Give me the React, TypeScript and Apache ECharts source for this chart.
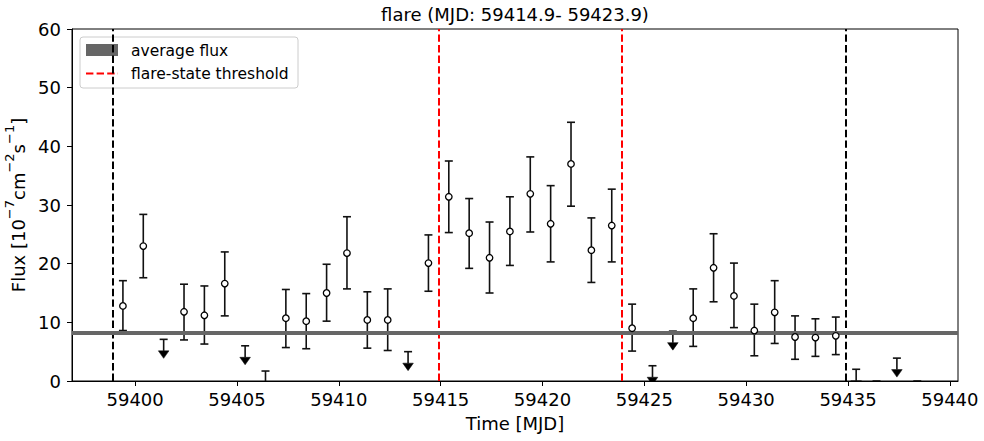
import React, { useEffect, useRef } from 'react';
import * as echarts from 'echarts';

// Detections (MJD, flux, lower error end, upper error end) in 1e-7 cm^-2 s^-1
const DET_TIME = [
  59399.4, 59400.4, 59402.4, 59403.4, 59404.4, 59407.4, 59408.4, 59409.4, 59410.4, 59411.4,
  59412.4, 59414.4, 59415.4, 59416.4, 59417.4, 59418.4, 59419.4, 59420.4, 59421.4, 59422.4,
  59423.4, 59424.4, 59427.4, 59428.4, 59429.4, 59430.4, 59431.4, 59432.4, 59433.4, 59434.4,
];
const DET_FLUX = [
  12.8, 23.0, 11.8, 11.2, 16.6, 10.7, 10.2, 15.0, 21.8, 10.4,
  10.4, 20.1, 31.4, 25.2, 21.0, 25.5, 31.9, 26.8, 37.0, 22.3,
  26.5, 9.0, 10.7, 19.3, 14.5, 8.6, 11.7, 7.5, 7.4, 7.7,
];
const DET_LOW = [
  8.6, 17.6, 7.0, 6.3, 11.1, 5.7, 5.5, 10.2, 15.7, 5.6,
  5.2, 15.3, 25.3, 19.2, 15.0, 19.7, 25.4, 20.3, 29.8, 16.8,
  20.3, 5.1, 5.9, 13.5, 9.1, 4.3, 6.4, 3.7, 4.2, 4.5,
];
const DET_HIGH = [
  17.1, 28.4, 16.5, 16.2, 22.0, 15.6, 14.9, 19.9, 28.0, 15.2,
  15.7, 24.9, 37.5, 31.1, 27.1, 31.4, 38.2, 33.3, 44.1, 27.8,
  32.7, 13.1, 15.7, 25.1, 20.1, 13.1, 17.1, 11.1, 10.6, 10.9,
];

// Upper limits
const UL_TIME = [59401.4, 59405.4, 59406.4, 59413.4, 59425.4, 59426.4, 59435.4, 59436.4, 59437.4, 59438.4];
const UL_FLUX = [7.1, 6.0, 1.7, 5.0, 2.6, 8.5, 2.0, 0.0, 3.9, 0.0];

const AVG_FLUX = 8.2;
const WINDOW_LINES = [59398.9, 59434.9];
const FLARE_LINES = [59414.9, 59423.9];

const X_MIN = 59396.9;
const X_MAX = 59440.4;
const X_TICKS = [59400, 59405, 59410, 59415, 59420, 59425, 59430, 59435, 59440];
const Y_MIN = 0;
const Y_MAX = 60;
const Y_STEP = 10;

const TITLE = 'flare (MJD: 59414.9- 59423.9)';
const LEGEND_AVG = 'average flux';
const LEGEND_THR = 'flare-state threshold';

const FONT = 'DejaVu Sans';

export default function App() {
  const ref = useRef<HTMLDivElement>(null);

  useEffect(() => {
    document.body.style.margin = '0';
    if (!ref.current) return;
    const chart = echarts.init(ref.current, undefined, { renderer: 'svg' });

    const errData = DET_TIME.map((t, i) => [t, DET_LOW[i], DET_HIGH[i]]);
    const ptData = DET_TIME.map((t, i) => [t, DET_FLUX[i]]);
    const ulData = UL_TIME.map((t, i) => [t, UL_FLUX[i]]);

    const barStyle = { stroke: '#111', lineWidth: 1.6 };
    const capHalf = 4;
    const arrowPx = 19;

    const markData: any[] = [];
    WINDOW_LINES.forEach((v) =>
      markData.push({ xAxis: v, lineStyle: { color: '#000', width: 2, type: [7.4, 3.2] } })
    );
    FLARE_LINES.forEach((v) =>
      markData.push({ xAxis: v, lineStyle: { color: '#ff0000', width: 2, type: [7.4, 3.2] } })
    );
    markData.push({ yAxis: AVG_FLUX, lineStyle: { color: '#666666', width: 4, type: 'solid' } });

    chart.setOption({
      animation: false,
      textStyle: { fontFamily: FONT },
      grid: {
        left: 72,
        right: 26,
        top: 29,
        bottom: 60,
        containLabel: false,
        outerBoundsMode: 'none',
        show: true,
        borderColor: '#000',
        borderWidth: 1,
        backgroundColor: 'transparent',
      },
      xAxis: {
        type: 'value',
        min: X_MIN,
        max: X_MAX,
        axisLine: { show: true, onZero: false, lineStyle: { color: '#000', width: 1 } },
        axisTick: { show: true, inside: false, length: 5, customValues: X_TICKS, lineStyle: { color: '#000' } },
        axisLabel: {
          customValues: X_TICKS,
          formatter: (v: number) => String(v),
          fontSize: 18,
          color: '#000',
          margin: 9,
          fontFamily: FONT,
        },
        splitLine: { show: false },
        name: 'Time [MJD]',
        nameLocation: 'middle',
        nameGap: 33,
        nameTextStyle: { fontSize: 18, color: '#000', fontFamily: FONT },
      },
      yAxis: {
        type: 'value',
        min: Y_MIN,
        max: Y_MAX,
        interval: Y_STEP,
        axisLine: { show: true, onZero: false, lineStyle: { color: '#000', width: 1 } },
        axisTick: { show: true, inside: false, length: 5, lineStyle: { color: '#000' } },
        axisLabel: {
          formatter: (v: number) => String(v),
          fontSize: 18,
          color: '#000',
          margin: 11,
          fontFamily: FONT,
        },
        splitLine: { show: false },
        name: '{n|Flux [10}{s|−7}{n|cm}{s|−2}{n|s}{s|−1}{n|]}',
        nameLocation: 'middle',
        nameGap: 39,
        nameTextStyle: {
          color: '#000',
          fontFamily: FONT,
          rich: {
            n: { fontSize: 18, lineHeight: 24, verticalAlign: 'bottom', fontFamily: FONT, color: '#000' },
            s: { fontSize: 13, lineHeight: 15, verticalAlign: 'top', fontFamily: FONT, color: '#000' },
          },
        },
      },
      graphic: [
        {
          type: 'text',
          x: 515,
          y: 14,
          style: {
            text: TITLE,
            fontSize: 18,
            fontFamily: FONT,
            fill: '#000',
            align: 'center',
            verticalAlign: 'middle',
          },
        },
        {
          type: 'group',
          z: 100,
          children: [
            {
              type: 'rect',
              shape: { x: 80, y: 37, width: 218, height: 51, r: 3 },
              style: { fill: 'rgba(255,255,255,0.85)', stroke: '#cccccc', lineWidth: 1 },
            },
            {
              type: 'rect',
              shape: { x: 86, y: 44, width: 32, height: 12 },
              style: { fill: '#666666' },
            },
            {
              type: 'line',
              shape: { x1: 86, y1: 73.5, x2: 118, y2: 73.5 },
              style: { stroke: '#ff0000', lineWidth: 2, lineDash: [7.4, 3.2] },
            },
            {
              type: 'text',
              x: 131,
              y: 50.5,
              style: { text: LEGEND_AVG, fontSize: 15.5, fontFamily: FONT, fill: '#000', verticalAlign: 'middle' },
            },
            {
              type: 'text',
              x: 131,
              y: 73.5,
              style: { text: LEGEND_THR, fontSize: 15.5, fontFamily: FONT, fill: '#000', verticalAlign: 'middle' },
            },
          ],
        },
      ],
      series: [
        {
          type: 'line',
          data: [],
          z: 1,
          silent: true,
          markLine: {
            silent: true,
            symbol: ['none', 'none'],
            label: { show: false },
            data: markData,
          },
        },
        {
          type: 'custom',
          z: 3,
          clip: true,
          silent: true,
          encode: { x: 0, y: [1, 2] },
          data: errData,
          renderItem: (params: any, api: any) => {
            const x = api.value(0);
            const top = api.coord([x, api.value(2)]);
            const bot = api.coord([x, api.value(1)]);
            return {
              type: 'group',
              children: [
                { type: 'line', shape: { x1: top[0], y1: top[1], x2: bot[0], y2: bot[1] }, style: barStyle },
                { type: 'line', shape: { x1: top[0] - capHalf, y1: top[1], x2: top[0] + capHalf, y2: top[1] }, style: barStyle },
                { type: 'line', shape: { x1: bot[0] - capHalf, y1: bot[1], x2: bot[0] + capHalf, y2: bot[1] }, style: barStyle },
              ],
            };
          },
        },
        {
          type: 'custom',
          z: 3,
          clip: true,
          silent: true,
          encode: { x: 0, y: 1 },
          data: ulData,
          renderItem: (params: any, api: any) => {
            const p = api.coord([api.value(0), api.value(1)]);
            const tipY = p[1] + arrowPx;
            const triTop = tipY - 7.5;
            return {
              type: 'group',
              children: [
                { type: 'line', shape: { x1: p[0] - capHalf, y1: p[1], x2: p[0] + capHalf, y2: p[1] }, style: barStyle },
                { type: 'line', shape: { x1: p[0], y1: p[1], x2: p[0], y2: triTop }, style: barStyle },
                {
                  type: 'polygon',
                  shape: { points: [[p[0] - 5.3, triTop], [p[0] + 5.3, triTop], [p[0], tipY]] },
                  style: { fill: '#000', stroke: '#000', lineWidth: 0.5 },
                },
              ],
            };
          },
        },
        {
          type: 'scatter',
          z: 5,
          silent: true,
          data: ptData,
          symbol: 'circle',
          symbolSize: 6.5,
          itemStyle: { color: '#ffffff', borderColor: '#000', borderWidth: 1.3, opacity: 1 },
        },
      ],
    });

    return () => {
      chart.dispose();
    };
  }, []);

  return (
    <div
      ref={ref}
      style={{ position: 'absolute', left: 0, top: 0, width: 984, height: 441 }}
    />
  );
}
